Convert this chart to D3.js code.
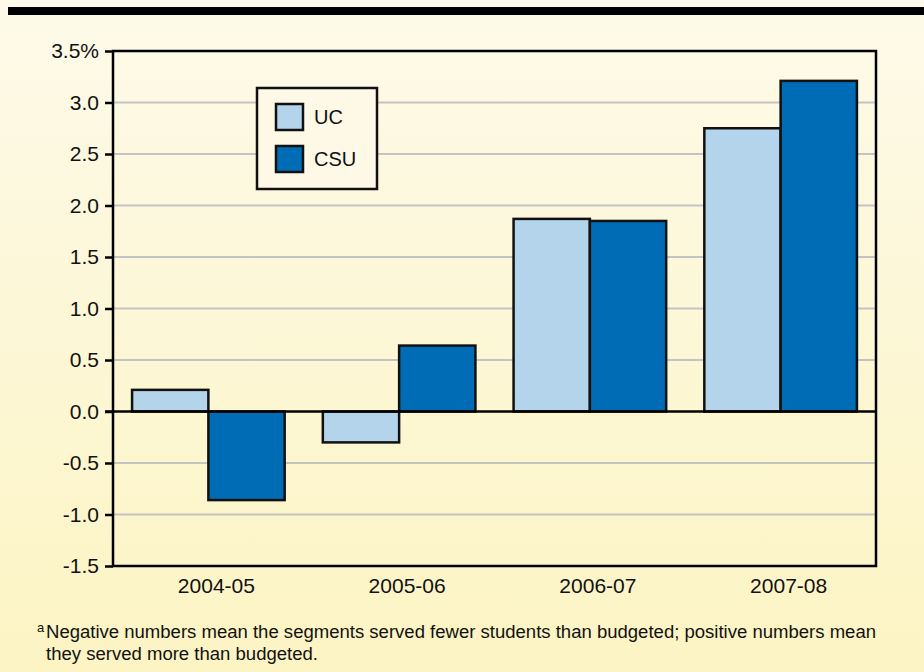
<!DOCTYPE html>
<html>
<head>
<meta charset="utf-8">
<script src="https://cdn.jsdelivr.net/npm/d3@7"></script>
<style>
  html, body { margin: 0; padding: 0; }
  body { width: 924px; height: 672px; overflow: hidden; }
  svg text { font-family: "Liberation Sans", Arial, Helvetica, sans-serif; fill: #111; }
</style>
</head>
<body>
<svg id="chart" width="924" height="672"></svg>
<script>
const years = ['2004-05', '2005-06', '2006-07', '2007-08'];
const seriesNames = ['UC', 'CSU'];
const ucValues = [0.21, -0.30, 1.87, 2.75];
const csuValues = [-0.86, 0.64, 1.85, 3.21];
const yTicks = [-1.5, -1.0, -0.5, 0, 0.5, 1.0, 1.5, 2.0, 2.5, 3.0, 3.5];
const colors = { UC: '#b3d4ea', CSU: '#006cb5' };

const svg = d3.select('#chart');
const W = 924, H = 672;
const margin = { top: 51, right: 48, bottom: 106, left: 113 };
const width = W - margin.left - margin.right;
const height = H - margin.top - margin.bottom;

// background gradient
const defs = svg.append('defs');
const grad = defs.append('linearGradient')
	.attr('id', 'bg').attr('x1', 0).attr('y1', 0).attr('x2', 0).attr('y2', 1);
grad.append('stop').attr('offset', '0%').attr('stop-color', '#fdfae9');
grad.append('stop').attr('offset', '100%').attr('stop-color', '#fcf4c3');
svg.append('rect').attr('width', W).attr('height', H).attr('fill', 'url(#bg)');

// black rule on top
svg.append('rect').attr('x', 8).attr('y', 7).attr('width', W - 8).attr('height', 8).attr('fill', '#000');

const data = years.map((year, i) => ({ year, UC: ucValues[i], CSU: csuValues[i] }));

const x0 = d3.scaleBand().domain(years).range([0, width]).paddingInner(0.2).paddingOuter(0.1);
const x1 = d3.scaleBand().domain(seriesNames).range([0, x0.bandwidth()]);
const y = d3.scaleLinear().domain([-1.5, 3.5]).range([height, 0]);

const g = svg.append('g').attr('transform', `translate(${margin.left},${margin.top})`);

// gridlines
g.append('g')
	.selectAll('line')
	.data(yTicks.filter(t => t !== 0 && t !== -1.5 && t !== 3.5))
	.enter().append('line')
	.attr('x1', 0).attr('x2', width)
	.attr('y1', d => y(d)).attr('y2', d => y(d))
	.attr('stroke', '#c4c4c4').attr('stroke-width', 2);

// bars
g.append('g')
	.selectAll('g')
	.data(data)
	.enter().append('g')
	.attr('transform', d => `translate(${x0(d.year)},0)`)
	.selectAll('rect')
	.data(d => seriesNames.map(key => ({ key, value: d[key] })))
	.enter().append('rect')
	.attr('x', d => x1(d.key))
	.attr('y', d => y(Math.max(0, d.value)))
	.attr('width', x1.bandwidth())
	.attr('height', d => Math.abs(y(d.value) - y(0)))
	.attr('fill', d => colors[d.key])
	.attr('stroke', '#111').attr('stroke-width', 2.5);

// zero line
g.append('line')
	.attr('x1', -8).attr('x2', width)
	.attr('y1', y(0)).attr('y2', y(0))
	.attr('stroke', '#000').attr('stroke-width', 2.5);

// frame
g.append('rect')
	.attr('x', 0).attr('y', 0).attr('width', width).attr('height', height)
	.attr('fill', 'none').attr('stroke', '#000').attr('stroke-width', 2.5);

// y axis
const yAxis = g.append('g')
	.call(d3.axisLeft(y).tickValues(yTicks).tickSize(8).tickPadding(6)
		.tickFormat(d => d === 3.5 ? '3.5%' : d.toFixed(1)));
yAxis.select('.domain').remove();
yAxis.selectAll('line').attr('stroke', '#000').attr('stroke-width', 2.5);
yAxis.selectAll('text').attr('font-size', 21).attr('fill', '#111')
	.style('font-family', '"Liberation Sans", Arial, sans-serif');

// x axis labels
const xAxis = g.append('g')
	.attr('transform', `translate(0,${height})`)
	.call(d3.axisBottom(x0).tickSize(0).tickPadding(0));
xAxis.select('.domain').remove();
xAxis.selectAll('text')
	.attr('dy', null).attr('y', 27).attr('dx', 8)
	.attr('font-size', 21).attr('fill', '#111')
	.style('font-family', '"Liberation Sans", Arial, sans-serif');

// legend
const legend = svg.append('g').attr('transform', 'translate(257,88)');
legend.append('rect')
	.attr('width', 120).attr('height', 101)
	.attr('fill', '#fdf9e6').attr('stroke', '#111').attr('stroke-width', 2.5);
seriesNames.forEach((name, i) => {
	const row = legend.append('g').attr('transform', `translate(19,${16 + i * 42})`);
	row.append('rect')
		.attr('width', 27).attr('height', 26)
		.attr('fill', colors[name]).attr('stroke', '#111').attr('stroke-width', 2.5);
	row.append('text')
		.attr('x', 38).attr('y', 20)
		.attr('font-size', 20)
		.text(name);
});

// footnote
svg.append('text').attr('x', 37).attr('y', 632).attr('font-size', 13).text('a');
svg.append('text').attr('x', 46).attr('y', 638).attr('font-size', 17.5)
	.attr('textLength', 830).attr('lengthAdjust', 'spacingAndGlyphs')
	.text('Negative numbers mean the segments served fewer students than budgeted; positive numbers mean');
svg.append('text').attr('x', 46).attr('y', 660).attr('font-size', 17.5)
	.attr('textLength', 272).attr('lengthAdjust', 'spacingAndGlyphs')
	.text('they served more than budgeted.');
</script>
</body>
</html>
